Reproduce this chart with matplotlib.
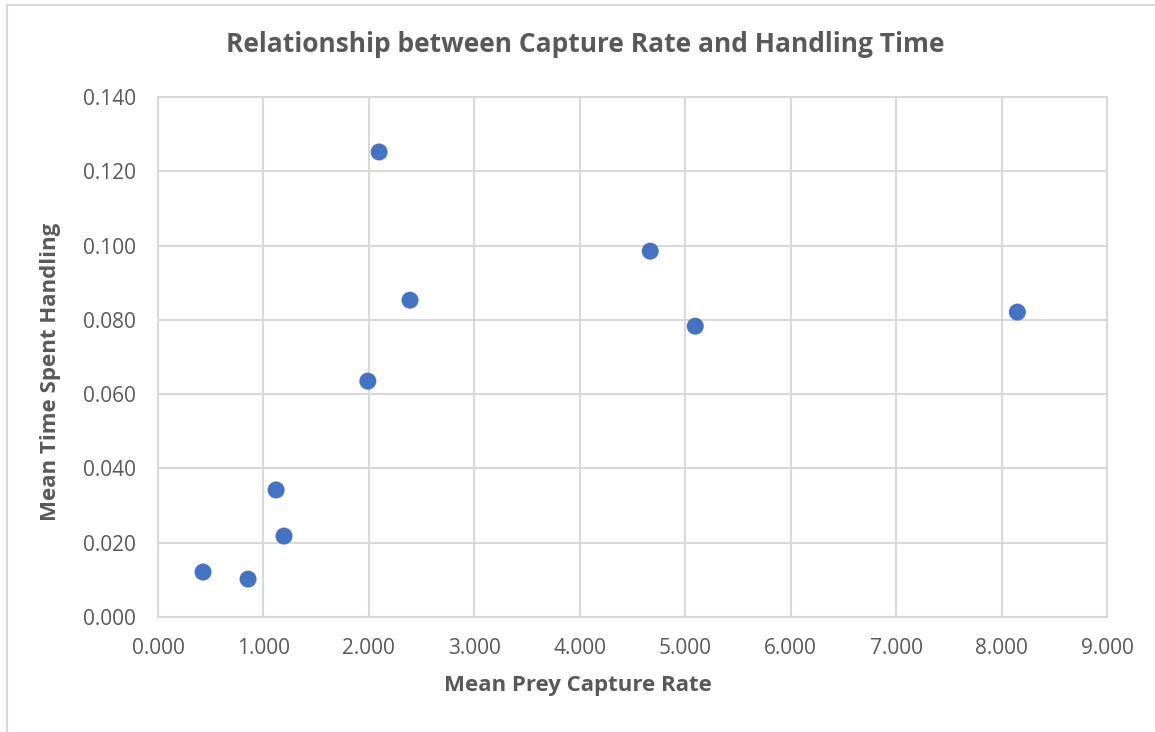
import matplotlib.pyplot as plt
from matplotlib.lines import Line2D

# mean prey capture rate vs mean time spent handling
capture_rate = [0.427, 0.854, 1.120, 1.195, 1.990, 2.097, 2.390, 4.668, 5.095, 8.150]
handling_time = [0.0121, 0.0102, 0.0342, 0.0218, 0.0635, 0.1252, 0.0853, 0.0985, 0.0783, 0.0821]

x_ticks = [0, 1, 2, 3, 4, 5, 6, 7, 8, 9]
y_ticks = [0.0, 0.02, 0.04, 0.06, 0.08, 0.10, 0.12, 0.14]

plt.rcParams['font.family'] = ['Open Sans', 'DejaVu Sans']

text_grey = '#595959'
grid_grey = '#d9d9d9'

fig = plt.figure(figsize=(11.55, 7.32), dpi=100)
ax = fig.add_axes([158 / 1155, 1 - 617 / 732, (1107 - 158) / 1155, (617 - 97) / 732])

ax.scatter(capture_rate, handling_time, s=150, color='#4472C4',
           edgecolors='none', zorder=3)

ax.set_xlim(0, 9)
ax.set_ylim(0, 0.14)
ax.set_xticks(x_ticks)
ax.set_yticks(y_ticks)
ax.set_xticklabels([f'{v:.3f}' for v in x_ticks])
ax.set_yticklabels([f'{v:.3f}' for v in y_ticks])
ax.tick_params(length=0, labelsize=15, colors=text_grey)
ax.tick_params(axis='x', pad=15)
ax.tick_params(axis='y', pad=16)

ax.grid(True, color=grid_grey, linewidth=1.5)
ax.set_axisbelow(True)
for side in ax.spines.values():
    side.set_color(grid_grey)
    side.set_linewidth(1.5)

# axis titles are centred on the chart area rather than the plot area
fig.text(578 / 1155, 1 - 686 / 732, 'Mean Prey Capture Rate', ha='center', va='center',
         fontsize=16, fontweight='bold', color=text_grey)
fig.text(51 / 1155, 1 - 372 / 732, 'Mean Time Spent Handling', ha='center', va='center',
         rotation=90, fontsize=16, fontweight='bold', color=text_grey)

fig.text(585 / 1155, 1 - 45 / 732, 'Relationship between Capture Rate and Handling Time',
         ha='center', va='center', fontsize=19, fontweight='bold', color=text_grey)

# chart-area frame along the left and top edges
fig.add_artist(Line2D([7 / 1155, 7 / 1155], [0, 1 - 5 / 732],
                      transform=fig.transFigure, color=grid_grey, linewidth=1.5))
fig.add_artist(Line2D([7 / 1155, 1], [1 - 5 / 732, 1 - 5 / 732],
                      transform=fig.transFigure, color=grid_grey, linewidth=1.5))

fig.savefig('out.png', dpi=100)
